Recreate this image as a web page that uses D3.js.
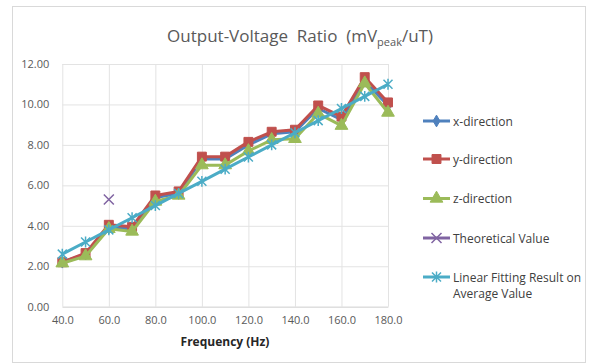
<!DOCTYPE html>
<html>
<head>
<meta charset="utf-8">
<script src="https://cdn.jsdelivr.net/npm/d3@7"></script>
<style>
  body { margin: 0; background: #fff; }
  text { font-family: "Open Sans", "Noto Sans", sans-serif; }
</style>
</head>
<body>
<svg id="chart" width="592" height="363"></svg>
<script>
// frequencies (Hz)
const freqs = [40, 50, 60, 70, 80, 90, 100, 110, 120, 130, 140, 150, 160, 170, 180];
const xDir = [2.2, 2.6, 3.9, 3.85, 5.4, 5.6, 7.3, 7.3, 8.0, 8.55, 8.65, 9.8, 9.25, 11.15, 9.95];
const yDir = [2.2, 2.65, 4.05, 3.95, 5.5, 5.7, 7.42, 7.42, 8.15, 8.65, 8.75, 9.95, 9.4, 11.35, 10.1];
const zDir = [2.15, 2.5, 3.85, 3.72, 5.2, 5.5, 7.0, 7.0, 7.7, 8.25, 8.3, 9.55, 8.95, 11.05, 9.6];
const theory = [null, null, 5.3, null, null, null, null, null, null, null, null, null, null, null, null];
const linFit = [2.6, 3.2, 3.8, 4.4, 5.0, 5.6, 6.2, 6.8, 7.4, 8.0, 8.6, 9.2, 9.8, 10.4, 11.0];
const xTicks = [40, 60, 80, 100, 120, 140, 160, 180];
const yTicks = [0, 2, 4, 6, 8, 10, 12];
const seriesNames = ["x-direction", "y-direction", "z-direction", "Theoretical Value", "Linear Fitting Result on|Average Value"];

const svg = d3.select("#chart");

// chart frame
svg.append("rect")
    .attr("x", 12.5).attr("y", 6.5)
    .attr("width", 573).attr("height", 356)
    .attr("fill", "#fff").attr("stroke", "#d9d9d9");

const pLeft = 62.3, pRight = 388, pTop = 64, pBottom = 306.7;

const x = d3.scaleLinear().domain([40, 180]).range([pLeft, pRight]);
const y = d3.scaleLinear().domain([0, 12]).range([pBottom, pTop]);

// grid lines
svg.append("g")
    .attr("transform", "translate(0," + pBottom + ")")
    .call(d3.axisBottom(x).tickValues(xTicks).tickSize(-(pBottom - pTop)).tickFormat(""))
    .call(g => g.select(".domain").remove())
    .selectAll("line").attr("stroke", "#e3e3e3");

svg.append("g")
    .attr("transform", "translate(" + pLeft + ",0)")
    .call(d3.axisLeft(y).tickValues(yTicks).tickSize(-(pRight - pLeft)).tickFormat(""))
    .call(g => g.select(".domain").remove())
    .selectAll("line").attr("stroke", "#e3e3e3");

// axis labels
const xAxis = svg.append("g")
    .attr("transform", "translate(0," + pBottom + ")")
    .call(d3.axisBottom(x).tickValues(xTicks).tickSize(0).tickPadding(10).tickFormat(d3.format(".1f")));
xAxis.select(".domain").attr("stroke", "#d9d9d9");
xAxis.selectAll("text").attr("font-size", 11).attr("fill", "#595959")
    .attr("font-family", "Open Sans, sans-serif");

const yAxis = svg.append("g")
    .attr("transform", "translate(" + pLeft + ",0)")
    .call(d3.axisLeft(y).tickValues(yTicks).tickSize(0).tickPadding(13).tickFormat(d3.format(".2f")));
yAxis.select(".domain").remove();
yAxis.selectAll("text").attr("font-size", 11).attr("fill", "#595959")
    .attr("font-family", "Open Sans, sans-serif");

// title
const title = svg.append("text")
    .attr("x", 300).attr("y", 42)
    .attr("text-anchor", "middle")
    .style("white-space", "pre")
    .attr("font-size", 17).attr("fill", "#595959");
title.append("tspan").text("Output-Voltage  Ratio  (mV");
title.append("tspan").attr("font-size", 11).attr("dy", 4).text("peak");
title.append("tspan").attr("dy", -4).text("/uT)");

svg.append("text")
    .attr("x", 225).attr("y", 346)
    .attr("text-anchor", "middle")
    .attr("font-size", 12).attr("font-weight", "bold").attr("fill", "#262626")
    .text("Frequency (Hz)");

// markers
const starPath = s => {
    const r = s / 2;
    return "M" + (-r) + "," + (-r) + "L" + r + "," + r +
        "M" + (-r) + "," + r + "L" + r + "," + (-r) +
        "M0," + (-r * 1.2) + "L0," + (r * 1.2);
};
const timesPath = s => {
    const r = s / 2;
    return "M" + (-r) + "," + (-r) + "L" + r + "," + r +
        "M" + (-r) + "," + r + "L" + r + "," + (-r);
};

const series = [
    { values: xDir, color: "#4f81bd", marker: d3.symbol(d3.symbolDiamond, 40)(), fill: true },
    { values: yDir, color: "#c0504d", marker: d3.symbol(d3.symbolSquare, 80)(), fill: true },
    { values: zDir, color: "#9bbb59", marker: d3.symbol(d3.symbolTriangle, 70)(), fill: true },
    { values: theory, color: "#8064a2", marker: timesPath(10), fill: false },
    { values: linFit, color: "#4bacc6", marker: starPath(9), fill: false }
];

const line = d3.line()
    .defined(d => d[1] != null)
    .x(d => x(d[0]))
    .y(d => y(d[1]));

series.forEach(s => {
    const pts = freqs.map((f, i) => [f, s.values[i]]);
    svg.append("path")
        .datum(pts)
        .attr("fill", "none")
        .attr("stroke", s.color)
        .attr("stroke-width", 3)
        .attr("stroke-linejoin", "round")
        .attr("d", line);
    svg.append("g").selectAll("path")
        .data(pts.filter(d => d[1] != null))
        .join("path")
        .attr("transform", d => "translate(" + x(d[0]) + "," + y(d[1]) + ")")
        .attr("d", s.marker)
        .attr("fill", s.fill ? s.color : "none")
        .attr("stroke", s.color)
        .attr("stroke-width", s.fill ? 1 : 1.5);
});

// legend
const legendY = [121, 159, 198.5, 238, 277];
const legend = svg.append("g");
series.forEach((s, i) => {
    const g = legend.append("g").attr("transform", "translate(423," + legendY[i] + ")");
    g.append("line").attr("x1", 0).attr("x2", 27)
        .attr("stroke", s.color).attr("stroke-width", 3);
    g.append("path").attr("transform", "translate(13.5,0)")
        .attr("d", s.marker)
        .attr("fill", s.fill ? s.color : "none")
        .attr("stroke", s.color)
        .attr("stroke-width", s.fill ? 1 : 1.5);
    const t = g.append("text").attr("x", 30).attr("y", 4.5)
        .attr("font-size", 12).attr("fill", "#404040");
    seriesNames[i].split("|").forEach((part, j) => {
        t.append("tspan").attr("x", 30).attr("dy", j === 0 ? 0 : 16).text(part);
    });
});
</script>
</body>
</html>
